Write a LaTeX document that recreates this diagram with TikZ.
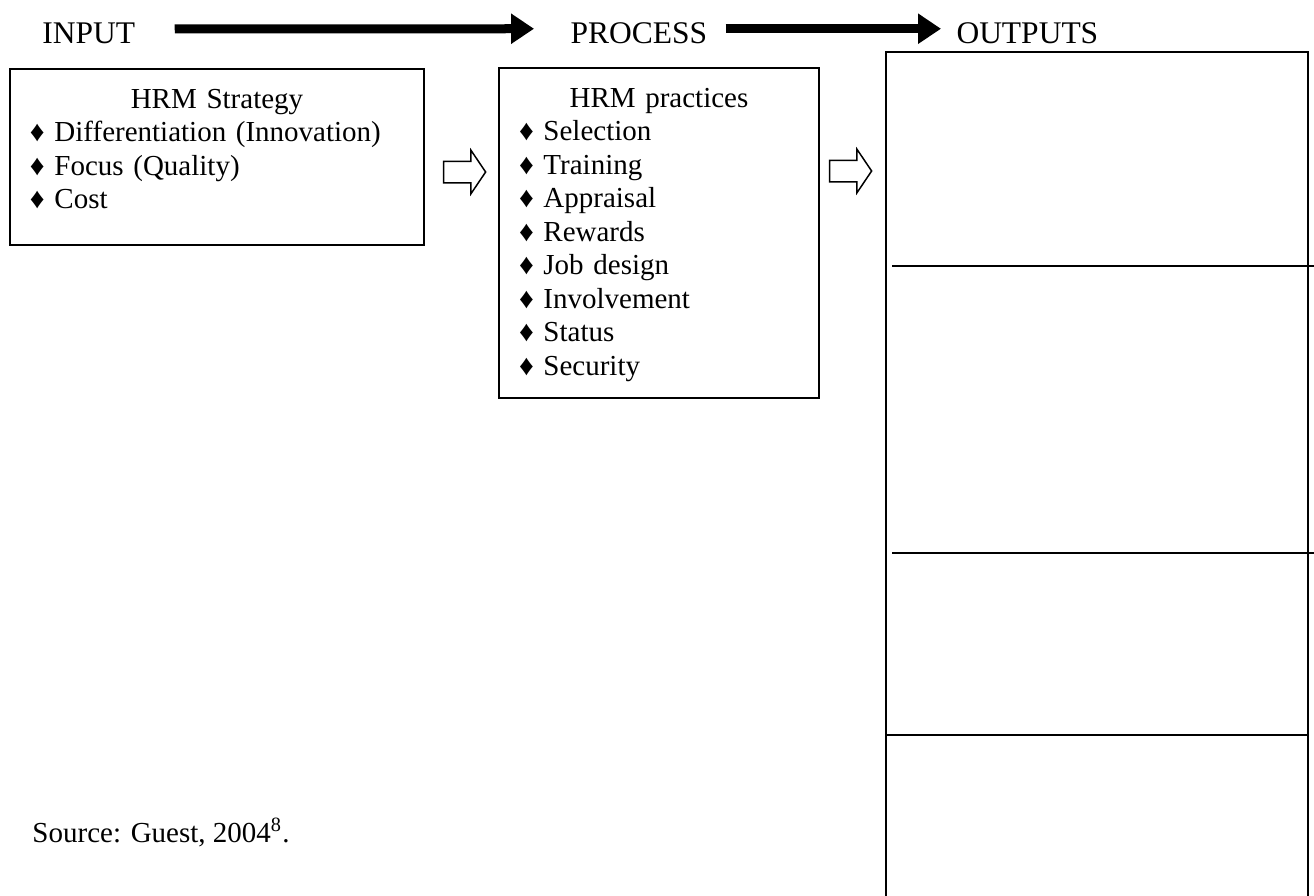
\documentclass[tikz,border=0pt]{standalone}
\usepackage{fontspec}
\setmainfont{Liberation Serif}
\usetikzlibrary{arrows.meta,shapes.arrows}

\tikzset{
    stagelabel/.style={anchor=base west, inner sep=0pt, font=\fontsize{12.6}{15}\selectfont},
    flowarrow/.style={line width=3.6pt, -{Triangle[length=9.2pt,width=11.6pt]}},
    listbox/.style={draw, line width=0.8pt, anchor=north west, inner sep=8pt, align=left,
        text height=7.6pt, font=\fontsize{11.6}{13.4}\selectfont},
    hollowarrow/.style={single arrow, draw, line width=0.6pt, inner xsep=0pt, inner ysep=4pt,
        minimum width=16.8pt, minimum height=16.8pt,
        single arrow head extend=4.4pt, single arrow tip angle=112},
    rule/.style={line width=0.8pt}
}
\newcommand{\dia}{♦\ }

\begin{document}
\begin{tikzpicture}[x=0.4pt, y=-0.4pt]
        % 0. Page frame (pixel grid of the reference)
        \fill[white] (0,0) rectangle (1314,895);
        \useasboundingbox (0,0) rectangle (1314,895);

        % 1. Stage titles joined by thick arrows
        \node[stagelabel] (input) at (42,43) {INPUT};
        \node[stagelabel] (process) at (570,43) {PROCESS};
        \node[stagelabel] (outputs) at (956,43) {OUTPUTS};
        \draw[flowarrow, shorten <=15.6pt, shorten >=14.4pt]
            ([yshift=1.6pt]input.east) -- ([yshift=1.6pt]process.west);
        \draw[flowarrow, shorten <=7.2pt, shorten >=6pt]
            ([yshift=1.6pt]process.east) -- ([yshift=1.6pt]outputs.west);

        % 2. Input box: strategy
        \node[listbox, text width=149.6pt, text depth=46.8pt] (strategy) at (9,68) {%
            {\centering HRM Strategy\par}
            \dia Differentiation (Innovation)\\
            \dia Focus (Quality)\\
            \dia Cost};

        % 3. Process box: practices
        \node[listbox, text width=112pt, text depth=108.4pt] (practices) at (498,67) {%
            {\centering HRM practices\par}
            \dia Selection\\
            \dia Training\\
            \dia Appraisal\\
            \dia Rewards\\
            \dia Job design\\
            \dia Involvement\\
            \dia Status\\
            \dia Security};

        % 4. Hollow arrows between the boxes
        \node[hollowarrow] (toprac) at (461,172) {};
        \node[hollowarrow] (toout) at (847,171) {};

        % 5. Output column (open at the bottom) with its dividers
        \draw[rule] (886,910) -- (886,52) -- (1308,52) -- (1308,910);
        \foreach \y in {266,553} {
            \draw[rule] (892,\y) -- (1314,\y);
        }
        \draw[rule] (886,735) -- (1308,735);

        % 6. Source note
        \node[anchor=base west, inner sep=0pt, font=\fontsize{11.6}{13.4}\selectfont] (source) at (32,842)
            {Source: Guest, 2004\textsuperscript{8}.};
\end{tikzpicture}
\end{document}
